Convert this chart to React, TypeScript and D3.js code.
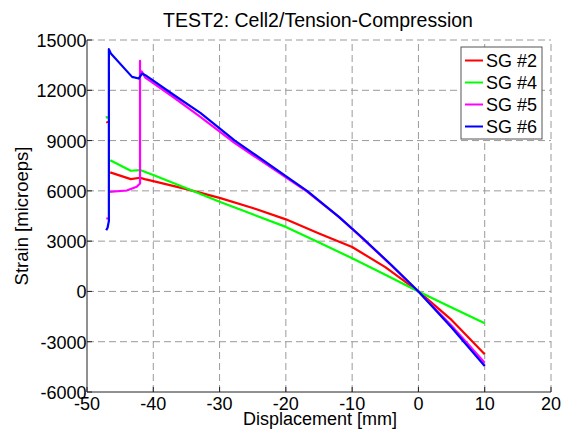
import React from "react";
import * as d3 from "d3";

const xTicks = [-50, -40, -30, -20, -10, 0, 10, 20];
const yTicks = [-6000, -3000, 0, 3000, 6000, 9000, 12000, 15000];

const seriesNames = ["SG #2", "SG #4", "SG #5", "SG #6"];
const seriesColors = ["#ff0000", "#00ff00", "#ff00ff", "#0000ff"];

// NaN marks a gap in the recorded data
const sg2X = [-47.0, -46.9, NaN, -46.5, -43.4, -42.0, -41.3, -40, -35, -30, -25, -20, -15, -10, -5, 0, 5, 10];
const sg2Y = [10150, 10050, NaN, 7100, 6700, 6780, 6700, 6580, 6100, 5580, 4980, 4300, 3450, 2650, 1450, 0, -1700, -3750];

const sg4X = [-47.1, -46.9, NaN, -46.5, -43.4, -42.0, -40, -35, -30, -25, -20, -15, -10, -5, 0, 5, 10];
const sg4Y = [10450, 10330, NaN, 7830, 7200, 7240, 6950, 6150, 5350, 4600, 3850, 2920, 1980, 1000, 0, -960, -1900];

const sg5X = [-47.1, -46.7, NaN, -46.7, -44, -42.5, -42.0, -42.0, -42.0, -41.7, -41.2, -37, -32.9, -27.7, -20, -16.8, -12, -8.8, -4, 0, 5, 10];
const sg5Y = [4350, 4350, NaN, 5940, 6020, 6240, 6440, 13760, 13160, 13100, 12750, 11600, 10420, 8850, 6800, 5950, 4450, 3300, 1520, 0, -2050, -4250];

const sg6X = [-47.1, -46.9, -46.7, -46.7, -46.4, -43.2, -42.2, -41.7, -41.2, -37, -32.9, -27.7, -20, -16.8, -12, -8.8, -4, 0, 5, 10];
const sg6Y = [3650, 3800, 4200, 14450, 14200, 12800, 12700, 13000, 12900, 11750, 10650, 9000, 6880, 6000, 4450, 3320, 1550, 0, -2150, -4450];

const seriesX = [sg2X, sg4X, sg5X, sg6X];
const seriesY = [sg2Y, sg4Y, sg5Y, sg6Y];

const W = 568;
const H = 430;
const M = { left: 87, right: 551, top: 40, bottom: 392 };
const FONT = "'Liberation Sans', Arial, sans-serif";

export default function App() {
  const x = d3.scaleLinear().domain([-50, 20]).range([M.left, M.right]);
  const y = d3.scaleLinear().domain([-6000, 15000]).range([M.bottom, M.top]);

  const line = d3
    .line<[number, number]>()
    .defined((d) => !isNaN(d[0]) && !isNaN(d[1]))
    .x((d) => x(d[0]))
    .y((d) => y(d[1]));

  return (
    <svg
      width={W}
      height={H}
      style={{ position: "absolute", left: 0, top: 0, background: "#fff" }}
      fontFamily={FONT}
    >
      <rect x={0} y={0} width={W} height={H} fill="#fff" />
      {/* grid */}
      <g stroke="#9a9a9a" strokeWidth={1} strokeDasharray="7,4">
        {xTicks.slice(1).map((t) => (
          <line key={"gx" + t} x1={x(t)} x2={x(t)} y1={M.bottom} y2={M.top} />
        ))}
        {yTicks.slice(1).map((t) => (
          <line key={"gy" + t} x1={M.left} x2={M.right} y1={y(t)} y2={y(t)} />
        ))}
      </g>
      {/* axes */}
      <g stroke="#222" strokeWidth={1}>
        <line x1={M.left} x2={M.right} y1={M.bottom} y2={M.bottom} />
        <line x1={M.left} x2={M.left} y1={M.bottom} y2={M.top} />
        {xTicks.map((t) => (
          <line key={"tx" + t} x1={x(t)} x2={x(t)} y1={M.bottom} y2={M.bottom - 5} />
        ))}
        {yTicks.map((t) => (
          <line key={"ty" + t} x1={M.left} x2={M.left + 5} y1={y(t)} y2={y(t)} />
        ))}
      </g>
      {/* series */}
      {seriesX.map((xs, i) => {
        const pts: [number, number][] = xs.map((v, j) => [v, seriesY[i][j]]);
        return (
          <path
            key={"s" + i}
            d={line(pts) || ""}
            fill="none"
            stroke={seriesColors[i]}
            strokeWidth={2.2}
            strokeLinejoin="round"
          />
        );
      })}
      {/* tick labels */}
      <g fontSize={18} fill="#000">
        {xTicks.map((t) => (
          <text key={"lx" + t} x={x(t)} y={M.bottom + 18} textAnchor="middle">
            {t}
          </text>
        ))}
        {yTicks.map((t) => (
          <text key={"ly" + t} x={M.left - 0.5} y={y(t) + 7} textAnchor="end">
            {t}
          </text>
        ))}
      </g>
      {/* labels */}
      <text x={318} y={27} fontSize={19.5} textAnchor="middle">
        TEST2: Cell2/Tension-Compression
      </text>
      <text x={320} y={425} fontSize={18} textAnchor="middle">
        Displacement [mm]
      </text>
      <text
        transform={`translate(28,${(M.top + M.bottom) / 2}) rotate(-90)`}
        fontSize={18.5}
        textAnchor="middle"
      >
        Strain [microeps]
      </text>
      {/* legend */}
      <g>
        <rect x={461} y={47} width={81} height={92} fill="#fff" stroke="#555" strokeWidth={1} />
        {seriesNames.map((n, i) => (
          <g key={"lg" + i}>
            <line
              x1={465}
              x2={483}
              y1={60.5 + i * 22}
              y2={60.5 + i * 22}
              stroke={seriesColors[i]}
              strokeWidth={2}
            />
            <text x={486} y={67 + i * 22} fontSize={18}>
              {n}
            </text>
          </g>
        ))}
      </g>
    </svg>
  );
}
